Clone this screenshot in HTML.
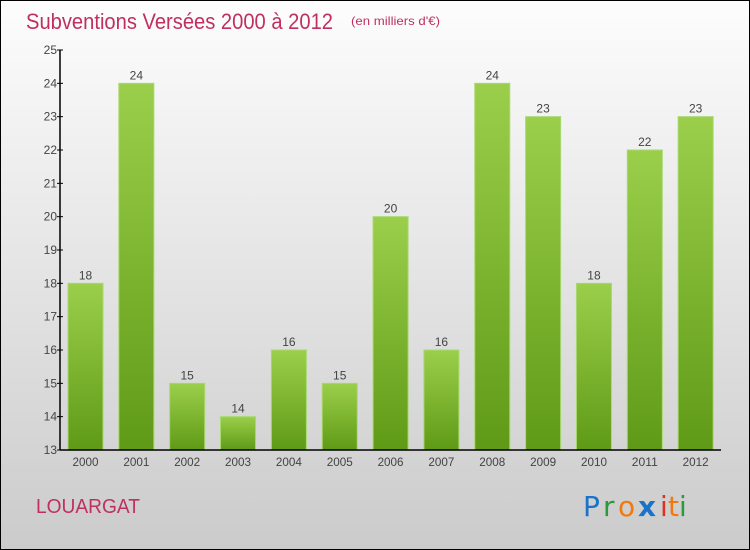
<!DOCTYPE html>
<html><head><meta charset="utf-8"><style>
body{margin:0}
#c{position:relative;width:750px;height:550px;overflow:hidden}
</style></head><body>
<div id="c">
<svg width="750" height="550" xmlns="http://www.w3.org/2000/svg" font-family="Liberation Sans, sans-serif">
<defs>
<linearGradient id="bg" x1="0" y1="0" x2="0" y2="1"><stop offset="0" stop-color="#fdfdfd"/><stop offset="1" stop-color="#cbcbcb"/></linearGradient>
<linearGradient id="bar" x1="0" y1="0" x2="0" y2="1"><stop offset="0" stop-color="#9bcf4b"/><stop offset="1" stop-color="#5f9a16"/></linearGradient>
</defs>
<rect x="0.5" y="0.5" width="749" height="549" fill="url(#bg)" stroke="#000"/>
<text x="26" y="29" font-size="22" fill="#c0305e" textLength="307" lengthAdjust="spacingAndGlyphs">Subventions Versées 2000 à 2012</text>
<text x="351" y="25" font-size="12" fill="#c0305e" textLength="89" lengthAdjust="spacingAndGlyphs">(en milliers d'€)</text>
<g id="plot"></g>
<text x="36" y="513" font-size="20" fill="#c0305e" textLength="104" lengthAdjust="spacingAndGlyphs">LOUARGAT</text>
<g font-size="28" font-family="DejaVu Sans, sans-serif">
<text x="583" y="516" fill="#1a73c8">P</text><text x="603" y="516" fill="#2a9a3a">r</text><text x="618" y="516" fill="#f07a10">o</text><text x="638" y="516" font-weight="bold" fill="#1a73c8">x</text><text x="660" y="516" fill="#e03020">i</text><text x="668" y="516" fill="#f07a10">t</text><text x="679" y="516" fill="#2a9a3a">i</text>
</g>
</svg>
</div>
<script>
const categories=["2000","2001","2002","2003","2004","2005","2006","2007","2008","2009","2010","2011","2012"];
const values=[18,24,15,14,16,15,20,16,24,23,18,22,23];
const yTicks=[13,14,15,16,17,18,19,20,21,22,23,24,25];
const NS="http://www.w3.org/2000/svg";
const g=document.getElementById("plot");
const x0=60,x1=721,yTop=50,yBot=450,ymin=13,ymax=25;
const slot=(x1-x0)/categories.length;
const y=v=>yBot-(v-ymin)/(ymax-ymin)*(yBot-yTop);
function el(t,a){const e=document.createElementNS(NS,t);for(const k in a)e.setAttribute(k,a[k]);g.appendChild(e);return e;}
categories.forEach((c,i)=>{
 const bx=x0+i*slot+8,by=y(values[i]);
 const r=el("rect",{x:bx,y:by,width:35,height:yBot-by,fill:"url(#bar)",stroke:"#a8d870","stroke-width":1});
 
 
 const t=el("text",{x:bx+17.5,y:by-4,"text-anchor":"middle","font-size":12,fill:"#444"});
 t.textContent=values[i];
 
 
 const xl=el("text",{x:bx+17.5,y:466,"text-anchor":"middle","font-size":12,fill:"#444",textLength:26,lengthAdjust:"spacingAndGlyphs"});
 xl.textContent=c;
 
 
});
yTicks.forEach(v=>{
 const tk=el("line",{x1:57,x2:63,y1:y(v),y2:y(v),stroke:"#000"});
 
 
 const t=el("text",{x:57,y:y(v)+4,"text-anchor":"end","font-size":12,fill:"#444"});
 t.textContent=v;
 
 
});
const ya=el("line",{x1:x0,x2:x0,y1:yTop,y2:yBot,stroke:"#000","stroke-width":1.5});


const xa=el("line",{x1:x0,x2:x1,y1:yBot,y2:yBot,stroke:"#000","stroke-width":1.5});


</script>
</body></html>
